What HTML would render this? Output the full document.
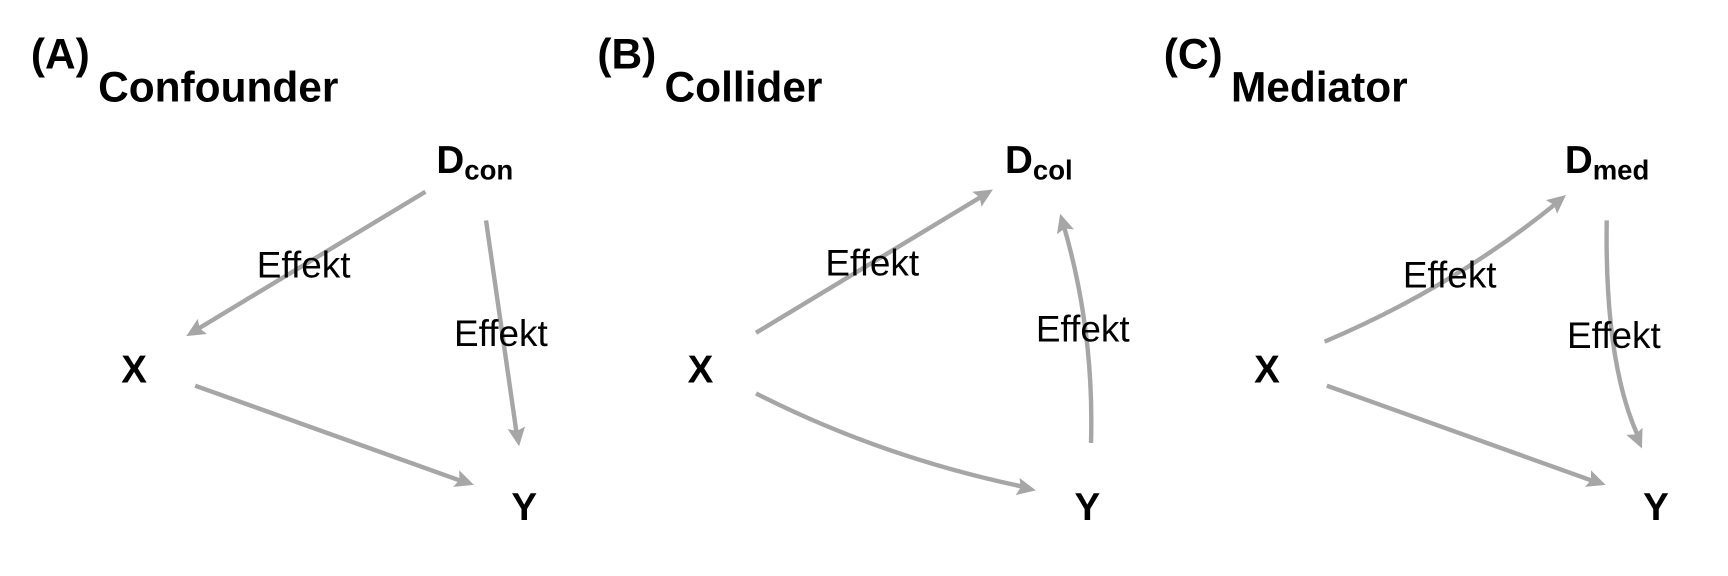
<!DOCTYPE html>
<html><head><meta charset="utf-8"><style>html,body{margin:0;padding:0;background:#fff}svg{display:block}</style></head>
<body>
<svg id="s" width="1728" height="576" viewBox="0 0 1568 522.7" xmlns="http://www.w3.org/2000/svg" font-family="Liberation Sans, Arial, sans-serif">
<rect width="1568" height="523" fill="#fff"/>
<g id="lines" fill="none" stroke="#a6a6a6" stroke-width="4">
<line x1="386" y1="174" x2="177" y2="300"/>
<line x1="441" y1="200" x2="469" y2="395"/>
<line x1="177" y1="350" x2="420" y2="437"/>
<line x1="686" y1="302" x2="893" y2="177"/>
<path d="M686,357 Q800,415 930,442"/>
<path d="M990,402 Q993,300 965,204"/>
<path d="M1202,310 Q1320,260 1414,183"/>
<path d="M1458,200 Q1456,330 1487,397"/>
<line x1="1204" y1="350" x2="1447" y2="437"/>
</g>
<g id="heads" fill="#a6a6a6"></g>
<g font-weight="bold" fill="#000">
<text x="28" y="62" font-size="38.5">(A)</text>
<text x="89" y="92" font-size="38.5">Confounder</text>
<text x="542" y="62" font-size="38.5">(B)</text>
<text x="603" y="92" font-size="38.5">Collider</text>
<text x="1056" y="62" font-size="38.5">(C)</text>
<text x="1117" y="92" font-size="38.5">Mediator</text>
<g font-size="35">
<text x="396" y="157">D<tspan font-size="25" dy="6">con</tspan></text>
<text x="110" y="347">X</text>
<text x="464" y="472">Y</text>
<text x="912" y="157">D<tspan font-size="25" dy="6">col</tspan></text>
<text x="624" y="347">X</text>
<text x="975" y="472">Y</text>
<text x="1420" y="157">D<tspan font-size="25" dy="6">med</tspan></text>
<text x="1138" y="347">X</text>
<text x="1491" y="472">Y</text>
</g>
</g>
<g font-size="33.5" fill="#000">
<text x="233" y="252">Effekt</text>
<text x="412" y="314">Effekt</text>
<text x="749" y="250">Effekt</text>
<text x="940" y="310">Effekt</text>
<text x="1273" y="261">Effekt</text>
<text x="1422" y="316">Effekt</text>
</g>
</svg>
<script>
var A=[[386,174,169,305],[441,200,471,405],[177,350,430,440],[686,302,901,172],[800,415,940,445],[993,300,962,194],[1320,260,1421,177],[1456,330,1490,407],[1204,350,1457,440]];
var g=document.getElementById('heads'),s='';
A.forEach(function(a){var dx=a[2]-a[0],dy=a[3]-a[1],l=Math.hypot(dx,dy),ux=dx/l,uy=dy/l,L=17,W=8;
var bx=a[2]-L*ux,by=a[3]-L*uy,nx=-uy*W,ny=ux*W,ix=a[2]-14*ux,iy=a[3]-14*uy;
s+='<polygon points="'+a[2]+','+a[3]+' '+(bx+nx)+','+(by+ny)+' '+ix+','+iy+' '+(bx-nx)+','+(by-ny)+'"/>';});
g.innerHTML=s;
</script>
</body></html>
